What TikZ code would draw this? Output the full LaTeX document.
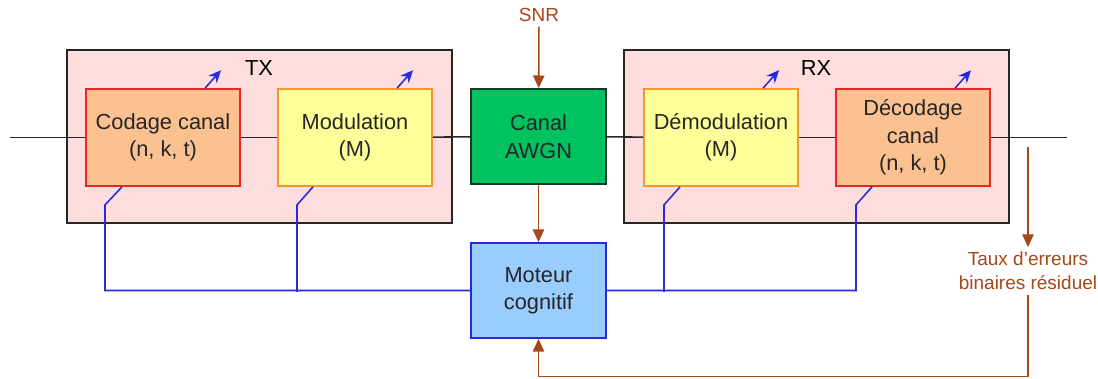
\documentclass[tikz,border=0pt]{standalone}
\usepackage{fontspec}
\setmainfont{Liberation Sans}
\usetikzlibrary{arrows.meta,calc}
\definecolor{pinkbg}{RGB}{253,221,221}
\definecolor{orangefill}{RGB}{251,193,145}
\definecolor{redline}{RGB}{232,38,38}
\definecolor{yellowfill}{RGB}{255,255,153}
\definecolor{orangeline}{RGB}{244,150,45}
\definecolor{greenfill}{RGB}{0,194,96}
\definecolor{greenline}{RGB}{25,55,35}
\definecolor{bluefill}{RGB}{153,204,255}
\definecolor{blueline}{RGB}{40,40,225}
\definecolor{brownline}{RGB}{165,72,25}
\newcommand{\boxfont}{\fontsize{15.5}{19.5}\selectfont}
\newcommand{\labfont}{\fontsize{13.5}{17}\selectfont}

\begin{document}
\begin{tikzpicture}[x=0.025cm,y=-0.025cm]
    \tikzstyle{chain}=[rectangle,line width=1.2pt,minimum width=3.85cm,minimum height=2.425cm,align=center,font=\boxfont,text=black!85]
    \tikzstyle{codec}=[chain,draw=redline,fill=orangefill]
    \tikzstyle{modem}=[chain,draw=orangeline,fill=yellowfill]
    \tikzstyle{side}=[rectangle,draw=black!85,line width=1.4pt,fill=pinkbg,minimum width=9.625cm,minimum height=4.325cm]
    \tikzstyle{center}=[rectangle,line width=1.2pt,minimum width=3.375cm,minimum height=2.375cm,align=center,font=\boxfont,text=black!85]
    \tikzstyle{wire}=[black!85,line width=1.1pt]
    \tikzstyle{ctrl}=[blueline,line width=1.1pt]
    \tikzstyle{feed}=[brownline,line width=1.1pt]
    \useasboundingbox (0,0) rectangle (1098,378);

    % TX and RX frames
    \node(tx) [side] at (259.5,136.5) {};
    \node(rx) [side] at (816.5,136.5) {};
    \node(txlab) at (259,68) {\boxfont TX};
    \node(rxlab) at (816,68) {\boxfont RX};

    % blocks
    \node(codage) [codec] at (163,137.5) {Codage canal\\(n, k, t)};
    \node(modul) [modem] at (355,137.5) {Modulation\\(M)};
    \node(awgn) [center,draw=greenline,fill=greenfill] at (538.5,136.5) {Canal\\AWGN};
    \node(demod) [modem] at (721,137.5) {Démodulation\\(M)};
    \node(decod) [codec] at (913,137.5) {Décodage\\canal\\(n, k, t)};
    \node(moteur) [center,draw=blueline,fill=bluefill] at (538.5,290.5) {Moteur\\cognitif};

    \node(snr) [text=brownline,font=\labfont] at (539,15) {SNR};
    \node(taux) [text=brownline,font=\labfont,align=center] at (1028,271) {Taux d’erreurs\\binaires résiduel};

    \coordinate(in) at (10,137.5);
    \coordinate(out) at (1067,137.5);
    \coordinate(tap) at (1028,147);
    \coordinate(loop) at (1028,376.5);

    % signal path
    \draw [wire] (in) -- (codage);
    \draw [wire] (codage) -- (modul);
    \draw [wire] (modul) -- (awgn);
    \draw [wire] (awgn) -- (demod);
    \draw [wire] (demod) -- (decod);
    \draw [wire] (decod) -- (out);

    % adjustable parameters
    \foreach \b in {codage,modul,demod,decod}
        \draw [ctrl,-{Stealth[length=9pt,width=8pt]}] ($(\b.north)+(42,0)$) -- ++(16,-18);

    % cognitive engine control
    \draw [ctrl] ($(codage.south)+(-41,0)$) -- ++(-17,18) |- (moteur.west);
    \draw [ctrl] ($(modul.south)+(-42,0)$) -- ++(-16,18) -- ++(0,87);
    \draw [ctrl] ($(decod.south)+(-41,0)$) -- ++(-16,18) |- (moteur.east);
    \draw [ctrl] ($(demod.south)+(-41,0)$) -- ++(-16,18) -- ++(0,87);

    % feedback
    \draw [feed,-{Triangle[length=9pt,width=8pt]}] (snr) -- (awgn);
    \draw [feed,-{Triangle[length=9pt,width=8pt]}] (awgn) -- (moteur);
    \draw [feed,-{Triangle[length=9pt,width=8pt]}] (tap) -- (taux);
    \draw [feed,-{Triangle[length=9pt,width=8pt]}] (taux) -- (loop) -| (moteur);

\end{tikzpicture}
\end{document}
